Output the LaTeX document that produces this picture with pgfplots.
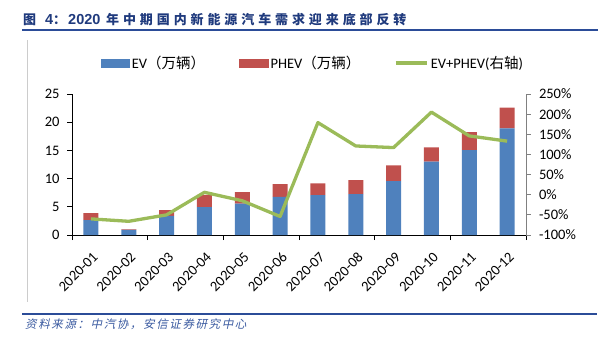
\documentclass[border=0pt]{standalone}
\usepackage{fontspec}
\usepackage{pgfplots}
\pgfplotsset{compat=1.18}
\setmainfont{Carlito}
\newfontfamily\cjk{Noto Sans CJK SC}
\newfontfamily\cjktitle{Noto Sans CJK SC}[LetterSpace=30]
\newfontfamily\arialb{Liberation Sans}
\newfontfamily\cjksrc{Noto Sans CJK SC}[FakeSlant=0.22,LetterSpace=14]
\definecolor{evblue}{HTML}{4F81BD}
\definecolor{phevred}{HTML}{C0504D}
\definecolor{lgreen}{HTML}{9BBB59}
\definecolor{navy}{HTML}{1F3A7D}
\definecolor{rulec}{HTML}{2B4C98}
\definecolor{srcc}{HTML}{3A5AA0}
\begin{document}
\begin{tikzpicture}[x=1bp,y=1bp]
\path[use as bounding box] (0,0) rectangle (611,341);
\begin{scope}[every node/.style={anchor=base west,inner sep=0,text=navy}]
\node[font=\cjktitle\bfseries\fontsize{13bp}{16bp}\selectfont] at (23,317) {图};
\node[font=\arialb\bfseries\fontsize{14.5bp}{16bp}\selectfont] at (45,317) {4};
\node[font=\cjk\bfseries\fontsize{13bp}{16bp}\selectfont] at (53,317) {：};
\node[font=\arialb\bfseries\fontsize{14.5bp}{16bp}\selectfont] at (68,317) {2020};
\node[font=\cjktitle\bfseries\fontsize{13bp}{16bp}\selectfont] at (106,317) {年中期国内新能源汽车需求迎来底部反转};
\end{scope}
\draw[rulec,line width=1.5bp] (22,311) -- (598,311);
\draw[rulec,line width=1.2bp] (22,27) -- (597,27);
\draw[black!20,line width=1bp] (27,301) -- (27,39);
\node[anchor=base west,inner sep=0,text=srcc,font=\cjksrc\fontsize{11.5bp}{14bp}\selectfont] at (25,12.5) {资料来源：中汽协，安信证券研究中心};
\begin{axis}[
  scale only axis, width=454bp, height=141bp, at={(72bp,106bp)}, anchor=south west,
  xmin=0.5, xmax=12.5, ymin=0, ymax=25,
  axis x line*=bottom, axis y line*=left,
  axis line style={black,line width=0.8bp},
  ybar stacked, bar width=15bp,
  xtick={0.5,2.5,...,12.5}, xticklabels={},
  extra x ticks={1,...,12},
  extra x tick labels={2020-01,2020-02,2020-03,2020-04,2020-05,2020-06,2020-07,2020-08,2020-09,2020-10,2020-11,2020-12},
  extra x tick style={major tick length=0pt, tick style={draw=none},
     xticklabel style={xshift=1bp, yshift=-16bp, rotate=45, anchor=north east, inner sep=0pt}},
  ytick={0,5,...,25},
  tick align=outside, major tick length=5bp,
  tick style={black,line width=0.8bp},
  /pgf/number format/assume math mode=true,
  tick label style={font=\fontsize{14.5bp}{17bp}\selectfont},
  yticklabel style={xshift=-4bp},
]
\addplot[fill=evblue,draw=none] coordinates {(1,2.66) (2,0.9) (3,3.37) (4,4.96) (5,5.56) (6,6.74) (7,7.09) (8,7.27) (9,9.57) (10,13.0) (11,15.07) (12,18.9)};
\addplot[fill=phevred,draw=none] coordinates {(1,1.24) (2,0.1) (3,1.06) (4,2.14) (5,2.04) (6,2.3) (7,2.07) (8,2.48) (9,2.78) (10,2.54) (11,3.19) (12,3.68)};
\end{axis}
\begin{axis}[
  scale only axis, width=454bp, height=141bp, at={(72bp,106bp)}, anchor=south west,
  xmin=0.5, xmax=12.5, ymin=-100, ymax=250,
  axis x line=none, axis y line*=right,
  y axis line style={black!50,line width=0.8bp},
  ytick={-100,-50,...,250},
  yticklabel={\pgfmathprintnumber{\tick}\%},
  tick align=outside, major tick length=4.5bp,
  tick style={black!50,line width=0.8bp},
  /pgf/number format/assume math mode=true,
  tick label style={font=\fontsize{14.5bp}{17bp}\selectfont},
  yticklabel style={xshift=5bp},
  legend columns=3,
  legend style={draw=none, fill=none, inner sep=0pt, outer sep=0pt,
    at={(axis description cs:0.0639,1.22)}, anchor=west,
    font=\fontsize{14.5bp}{17bp}\selectfont,
    /tikz/every even column/.append style={column sep=31bp},
    nodes={inner sep=2.5bp}},
  legend cell align=left,
]
\addlegendimage{legend image code/.code={\fill[evblue] (0bp,-3.75bp) rectangle (28bp,3.75bp);}}
\addlegendentry{EV{\cjk（万辆）}}
\addlegendimage{legend image code/.code={\fill[phevred] (0bp,-3.75bp) rectangle (29bp,3.75bp);}}
\addlegendentry{PHEV{\cjk（万辆）}}
\addplot[lgreen, line width=3.3bp, line join=round, mark=none,
  legend image code/.code={\draw[lgreen,line width=3.3bp] (0bp,0bp) -- (31bp,0bp);}]
  coordinates {(1,-60) (2,-66) (3,-50) (4,6) (5,-15) (6,-54) (7,179) (8,121) (9,117) (10,205) (11,146) (12,133)};
\addlegendentry{EV+PHEV({\cjk 右轴})}
\end{axis}
\end{tikzpicture}
\end{document}
